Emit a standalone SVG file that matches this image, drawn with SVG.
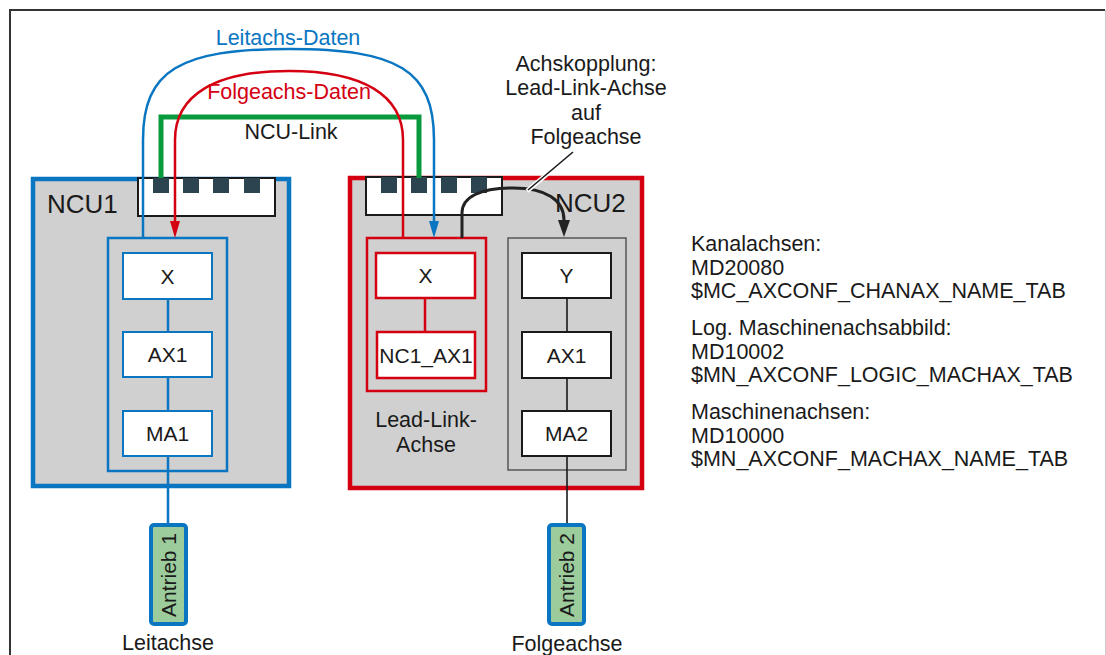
<svg xmlns="http://www.w3.org/2000/svg" width="1106" height="655" viewBox="0 0 1106 655">
<defs>
<style>
text{font-family:"Liberation Sans",Arial,sans-serif;font-size:21.5px;fill:#1a1a1a}
.mid{text-anchor:middle}
.nt{font-size:21px}
.ncu{font-size:26px}
.blueB{fill:#d0d0d0;stroke:#0a76c1;stroke-width:4.5}
.redB{fill:#d0d0d0;stroke:#d40012;stroke-width:4.5}
.link{fill:#fff;stroke:#1a1a1a;stroke-width:2}
.port{fill:#2b4450}
.nb{fill:#fff;stroke:#0a76c1;stroke-width:2}
.nr{fill:#fff;stroke:#d40012;stroke-width:2.5}
.nk{fill:#fff;stroke:#1a1a1a;stroke-width:2}
.gb{fill:none;stroke:#0a76c1;stroke-width:2.5}
.gr{fill:none;stroke:#d40012;stroke-width:2.5}
.gk{fill:none;stroke:#555;stroke-width:1.5}
.drive{fill:#9ccc9c;stroke:#0a76c1;stroke-width:4}
.cb{fill:none;stroke:#0a76c1;stroke-width:2.5}
.cr{fill:none;stroke:#d40012;stroke-width:2.5}
.cg{fill:none;stroke:#0a9a3e;stroke-width:5}
.ck{fill:none;stroke:#1a1a1a;stroke-width:1.6}
.ca{fill:none;stroke:#222;stroke-width:3}
</style>
<marker id="aB" markerUnits="userSpaceOnUse" viewBox="0 -6 17 12" refX="0" refY="0" markerWidth="17" markerHeight="12" orient="auto" overflow="visible"><path d="M0,-5 L17,0 L0,5 z" fill="#0a76c1"/></marker>
<marker id="aR" markerUnits="userSpaceOnUse" viewBox="0 -6 17 12" refX="0" refY="0" markerWidth="17" markerHeight="12" orient="auto" overflow="visible"><path d="M0,-5 L17,0 L0,5 z" fill="#d40012"/></marker>
<marker id="aK" markerUnits="userSpaceOnUse" viewBox="0 -6 17 12" refX="0" refY="0" markerWidth="17" markerHeight="12" orient="auto" overflow="visible"><path d="M0,-6 L17,0 L0,6 z" fill="#222"/></marker>
</defs>
<rect width="1106" height="655" fill="#fff"/>
<path d="M10,660 V10 H1105" fill="none" stroke="#333" stroke-width="2"/>
<path d="M1105.5,10 V660" fill="none" stroke="#ccc" stroke-width="1"/>

<g id="ncu1">
<rect class="blueB" x="33" y="179" width="256" height="307"/>
<text class="ncu" x="47" y="213">NCU1</text>
<rect class="link" x="138" y="178" width="137" height="38"/>
<rect class="port" x="153" y="178" width="16" height="15"/>
<rect class="port" x="183" y="178" width="16" height="15"/>
<rect class="port" x="213" y="178" width="16" height="15"/>
<rect class="port" x="244" y="178" width="16" height="15"/>
<rect class="gb" x="108" y="238" width="119" height="233"/>
</g>
<g id="ncu1-x"><rect class="nb" x="123" y="253" width="89" height="46"/><text class="mid nt" x="167.5" y="283.5">X</text></g>
<g id="ncu1-ax1"><rect class="nb" x="123" y="332" width="89" height="45"/><text class="mid nt" x="167.5" y="362">AX1</text></g>
<g id="ncu1-ma1"><rect class="nb" x="123" y="411" width="89" height="45"/><text class="mid nt" x="167.5" y="441">MA1</text></g>

<g id="ncu2">
<rect class="redB" x="350" y="178" width="292" height="310"/>
<text class="ncu" x="555" y="212">NCU2</text>
<rect class="link" x="366" y="177" width="136" height="38"/>
<rect class="port" x="381" y="177" width="16" height="16"/>
<rect class="port" x="411" y="177" width="16" height="16"/>
<rect class="port" x="441" y="177" width="16" height="16"/>
<rect class="port" x="471" y="177" width="16" height="16"/>
<rect class="gr" x="367" y="238" width="119" height="153"/>
<rect class="gk" x="508" y="238" width="118" height="232"/>
<text class="mid" x="426" y="427">Lead-Link-</text>
<text class="mid" x="426" y="452">Achse</text>
</g>
<g id="ncu2-x"><rect class="nr" x="376" y="253" width="99" height="45"/><text class="mid nt" x="425.5" y="283">X</text></g>
<g id="ncu2-nc1ax1"><rect class="nr" x="377" y="332" width="98" height="46"/><text class="mid nt" x="426" y="362.5">NC1_AX1</text></g>
<g id="ncu2-y"><rect class="nk" x="522" y="253" width="89" height="45"/><text class="mid nt" x="566.5" y="283">Y</text></g>
<g id="ncu2-ax1"><rect class="nk" x="522" y="332" width="89" height="46"/><text class="mid nt" x="566.5" y="362.5">AX1</text></g>
<g id="ncu2-ma2"><rect class="nk" x="522" y="411" width="89" height="45"/><text class="mid nt" x="566.5" y="441">MA2</text></g>

<g id="connectors">
<path class="cb" d="M168,299 V332 M168,377 V411 M168,456 V523"/>
<path class="cr" d="M425,298 V332"/>
<path class="ck" d="M567,298 V332 M567,378 V411 M567,456 V523"/>
<path class="cg" d="M161,178 V117 H419 V178"/>
<path class="cb" d="M143,238 V140 C143,70 180,49 289,49 C398,49 434,70 434,140 V221" marker-end="url(#aB)"/>
<path class="cr" d="M403,238 V140 C403,95 363,71 289,71 C215,71 175,95 175,140 V221" marker-end="url(#aR)"/>
<path class="ca" d="M462,238 V213 C462,197 480,188 513,188 C546,188 564,200 564,220" marker-end="url(#aK)"/>
<line x1="571" y1="154" x2="527" y2="191" stroke="#fff" stroke-width="4.5"/>
<line x1="573" y1="152" x2="528" y2="190" stroke="#1a1a1a" stroke-width="1.6"/>
</g>

<g id="antrieb1">
<rect class="drive" x="151" y="525" width="35" height="99" rx="3"/>
<text class="mid nt" transform="translate(176,575) rotate(-90)">Antrieb 1</text>
<text class="mid" x="168" y="650">Leitachse</text>
</g>
<g id="antrieb2">
<rect class="drive" x="549" y="525" width="35" height="99" rx="3"/>
<text class="mid nt" transform="translate(574,575) rotate(-90)">Antrieb 2</text>
<text class="mid" x="567" y="651">Folgeachse</text>
</g>

<g id="labels">
<text class="mid" x="288" y="45" style="fill:#0a76c1">Leitachs-Daten</text>
<text class="mid" x="289" y="99" style="fill:#d40012">Folgeachs-Daten</text>
<text class="mid" x="291" y="139">NCU-Link</text>
<text class="mid" x="586" y="71">Achskopplung:</text>
<text class="mid" x="586" y="95">Lead-Link-Achse</text>
<text class="mid" x="586" y="119.5">auf</text>
<text class="mid" x="586" y="144">Folgeachse</text>
</g>

<g id="legend" style="font-size:21.6px">
<text x="691" y="251">Kanalachsen:</text>
<text x="691" y="274.5">MD20080</text>
<text x="691" y="298">$MC_AXCONF_CHANAX_NAME_TAB</text>
<text x="691" y="335">Log. Maschinenachsabbild:</text>
<text x="691" y="358.5">MD10002</text>
<text x="691" y="382">$MN_AXCONF_LOGIC_MACHAX_TAB</text>
<text x="691" y="419">Maschinenachsen:</text>
<text x="691" y="442.5">MD10000</text>
<text x="691" y="466">$MN_AXCONF_MACHAX_NAME_TAB</text>
</g>
</svg>
